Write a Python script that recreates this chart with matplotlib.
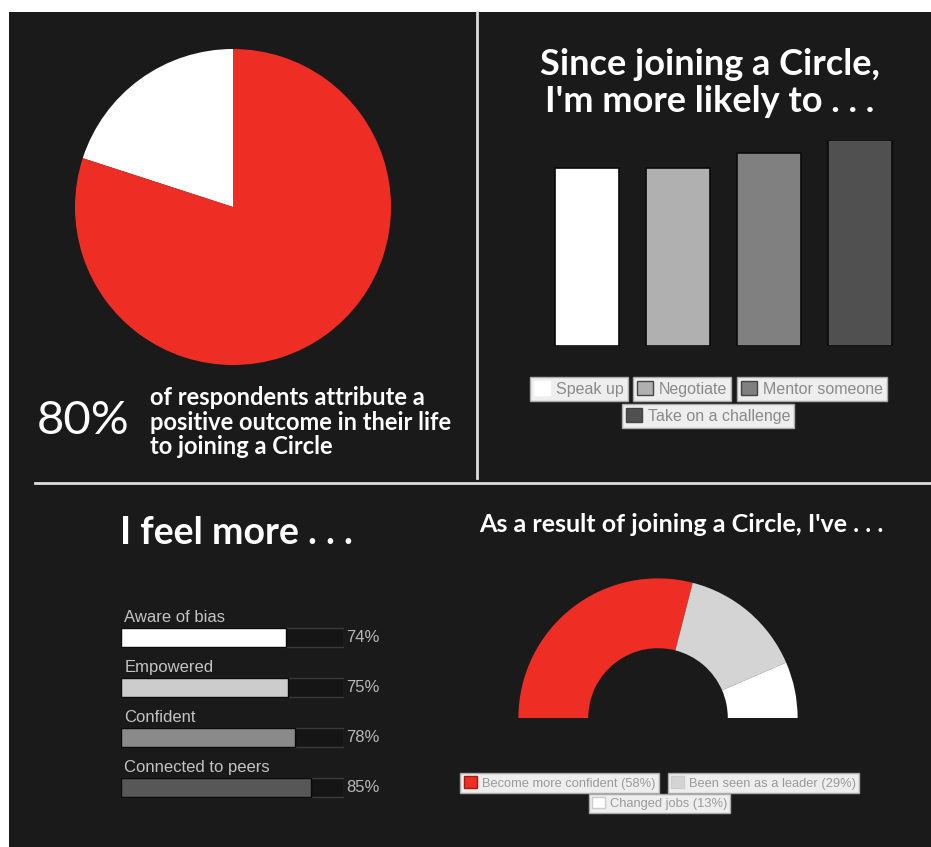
import matplotlib.pyplot as plt
from matplotlib.patches import Rectangle, Patch

# data
pie_labels = ["Other", "Attribute a positive outcome"]
pie_values = [20, 80]

likely_labels = ["Speak up", "Negotiate", "Mentor someone", "Take on a challenge"]
likely_values = [69, 69, 75, 80]

feel_labels = ["Aware of bias", "Empowered", "Confident", "Connected to peers"]
feel_values = [74, 75, 78, 85]

result_labels = ["Become more confident (58%)", "Been seen as a leader (29%)", "Changed jobs (13%)"]
result_values = [58, 29, 13]

W, H = 931, 847
BG = "#1b1a1a"
RED = "#ee2e24"
TITLE_FONT = ["Lato", "DejaVu Sans"]
SMALL_FONT = ["Liberation Sans", "DejaVu Sans"]

fig = plt.figure(figsize=(W / 100, H / 100), dpi=100, facecolor="white")


def rect(x0, y0, x1, y1):
    # pixel box (top-left origin) -> figure fraction
    return [x0 / W, 1 - y1 / H, (x1 - x0) / W, (y1 - y0) / H]


def boxed_legend(handle, label, center, size, textcolor):
    lg = fig.legend(handles=[handle], labels=[label], loc="center",
                    bbox_to_anchor=(center[0] / W, 1 - center[1] / H),
                    frameon=True, fancybox=False, framealpha=1,
                    prop=dict(family=SMALL_FONT, size=size),
                    handlelength=1.0, handleheight=1.0, handletextpad=0.4,
                    borderpad=0.25, borderaxespad=0)
    lg.get_frame().set_facecolor("#eeeeee")
    lg.get_frame().set_edgecolor("#aaaaaa")
    lg.get_frame().set_linewidth(1)
    for t in lg.get_texts():
        t.set_color(textcolor)


# background panel and dividers
bg = fig.add_axes([0, 0, 1, 1])
bg.set_xlim(0, W)
bg.set_ylim(H, 0)
bg.axis("off")
bg.add_patch(Rectangle((9, 12), W - 9, H - 12, facecolor=BG, edgecolor="none"))
bg.plot([477, 477], [12, 478], color="#dddddd", lw=2)
bg.plot([35, W], [483, 483], color="#dddddd", lw=2)

# top left: pie
ax1 = fig.add_axes(rect(75, 49, 391, 365))
ax1.pie(pie_values, colors=["white", RED], startangle=90, counterclock=True,
        wedgeprops=dict(linewidth=0))
ax1.set_xlim(-1, 1)
ax1.set_ylim(-1, 1)
ax1.set_aspect("equal")

bg.text(37, 421, "80%", color="white", fontsize=34, family=TITLE_FONT,
        va="center", ha="left")
bg.text(150, 422, "of respondents attribute a\npositive outcome in their life\nto joining a Circle",
        color="white", fontsize=17, family=TITLE_FONT, fontweight="bold",
        va="center", ha="left", linespacing=1.1)

# top right: vertical bars
bg.text(710, 83, "Since joining a Circle,\nI'm more likely to . . .", color="white",
        fontsize=26, family=TITLE_FONT, fontweight="bold", ha="center", va="center",
        linespacing=1.12)
ax2 = fig.add_axes(rect(541.5, 140, 905.5, 346))
bar_colors = ["#ffffff", "#b0b0b0", "#808080", "#505050"]
bars = ax2.bar(range(len(likely_values)), likely_values, width=0.7, color=bar_colors,
               edgecolor="#0a0a0a", linewidth=1.2)
ax2.set_xlim(-0.5, 3.5)
ax2.set_ylim(0, 80)
ax2.axis("off")

leg_pos = [(579, 389), (682, 389), (812, 389), (708, 416)]
for i, lab in enumerate(likely_labels):
    h = Patch(facecolor=bar_colors[i], edgecolor="#444444" if i else "white")
    boxed_legend(h, lab, leg_pos[i], 11.5, "#8a8a8a")

# bottom left: horizontal bars
bg.text(120, 533, "I feel more . . .", color="white", fontsize=27, family=TITLE_FONT,
        fontweight="bold", ha="left", va="center")
ax3 = fig.add_axes(rect(121, 612, 344, 812))
feel_colors = ["#ffffff", "#cccccc", "#8a8a8a", "#575757"]
pos = range(len(feel_values))
ax3.barh(pos, [100] * len(feel_values), height=0.38, color="#161515",
         edgecolor="#3a3a3a", linewidth=1)
ax3.barh(pos, feel_values, height=0.38, color=feel_colors, edgecolor="#0a0a0a",
         linewidth=1)
for i, (lab, v) in enumerate(zip(feel_labels, feel_values)):
    ax3.text(1.5, i - 0.24, lab, color="#c4c4c4", fontsize=12, family=SMALL_FONT,
             ha="left", va="bottom")
    ax3.text(101, i, f"{v}%", color="#b8b8b8", fontsize=12, family=SMALL_FONT,
             ha="left", va="center")
ax3.set_xlim(0, 100)
ax3.set_ylim(3.5, -0.5)
ax3.axis("off")

# bottom right: half donut
bg.text(681, 524, "As a result of joining a Circle, I've . . .", color="white",
        fontsize=18, family=TITLE_FONT, fontweight="bold", ha="center", va="center")
ax4 = fig.add_axes(rect(517, 577, 799, 718))
res_colors = [RED, "#d4d4d4", "#ffffff"]
ax4.pie([v / 200 for v in result_values], colors=res_colors, startangle=180,
        counterclock=False, normalize=False,
        wedgeprops=dict(width=0.5, linewidth=0))
ax4.set_xlim(-1.01, 1.01)
ax4.set_ylim(0, 1.01)
ax4.set_aspect("auto")

res_pos = [(559.5, 783), (763.5, 783), (659.5, 803.5)]
for i, lab in enumerate(result_labels):
    h = Patch(facecolor=res_colors[i], edgecolor="#cccccc" if i else "#aa1a14")
    boxed_legend(h, lab, res_pos[i], 9.3, "#9a9a9a")

fig.savefig("out.png", dpi=100, facecolor="white")
